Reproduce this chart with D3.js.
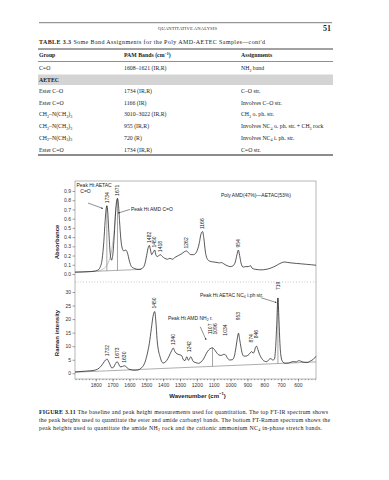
<!DOCTYPE html>
<html>
<head>
<meta charset="utf-8">
<script src="https://cdn.jsdelivr.net/npm/d3@7"></script>
<style>
body { margin: 0; background: #fff; }
svg { display: block; }
</style>
</head>
<body>
<svg id="page"></svg>
<script>
// ---- data ----
const irWavenumber = [1923, 1880, 1840, 1810, 1790, 1775, 1762, 1752, 1744, 1738, 1734, 1729, 1722, 1714, 1706, 1698, 1690, 1682, 1676, 1671,
    1666, 1659, 1651, 1643, 1633, 1622, 1612, 1600, 1588, 1570, 1545, 1525, 1510, 1498, 1488, 1482, 1475, 1468, 1458, 1450,
    1442, 1432, 1418, 1405, 1390, 1375, 1360, 1345, 1330, 1310, 1290, 1275, 1262, 1250, 1235, 1220, 1205, 1195, 1185, 1176,
    1166, 1158, 1150, 1140, 1125, 1100, 1080, 1065, 1055, 1040, 1020, 1000, 985, 972, 962, 954, 946, 938, 925, 910,
    895, 882, 870, 850, 820, 790, 760, 730, 700, 680, 660, 640, 610, 580, 550, 520, 493];
const irAbsorbance = [0.02, 0.022, 0.025, 0.03, 0.04, 0.07, 0.16, 0.35, 0.58, 0.71, 0.74, 0.68, 0.45, 0.22, 0.15, 0.22, 0.42, 0.68, 0.79, 0.82,
    0.77, 0.58, 0.38, 0.28, 0.25, 0.26, 0.23, 0.14, 0.08, 0.06, 0.05, 0.06, 0.10, 0.20, 0.29, 0.31, 0.26, 0.21, 0.24, 0.26,
    0.20, 0.19, 0.21, 0.19, 0.17, 0.16, 0.17, 0.16, 0.18, 0.20, 0.22, 0.24, 0.25, 0.23, 0.21, 0.21, 0.23, 0.27, 0.34, 0.43,
    0.46, 0.38, 0.25, 0.17, 0.14, 0.13, 0.125, 0.12, 0.125, 0.11, 0.09, 0.08, 0.09, 0.13, 0.21, 0.26, 0.20, 0.12, 0.075, 0.08,
    0.08, 0.09, 0.06, 0.05, 0.045, 0.05, 0.065, 0.09, 0.12, 0.13, 0.125, 0.12, 0.115, 0.11, 0.105, 0.10, 0.095];

// grey AMD carbonyl component drawn under the 1671 band
const amdWavenumber = [1790, 1760, 1735, 1715, 1700, 1690, 1680, 1671];
const amdAbsorbance = [0.03, 0.05, 0.09, 0.18, 0.32, 0.48, 0.70, 0.82];

const ramanWavenumber = [1923, 1860, 1810, 1790, 1770, 1755, 1742, 1732, 1724, 1714, 1705, 1695, 1685, 1673, 1664, 1654, 1642, 1630, 1620, 1605,
    1590, 1570, 1550, 1535, 1520, 1505, 1493, 1482, 1470, 1460, 1450, 1443, 1436, 1428, 1420, 1410, 1400, 1390, 1378, 1365,
    1350, 1340, 1330, 1318, 1305, 1290, 1280, 1270, 1260, 1250, 1236, 1222, 1205, 1190, 1175, 1160, 1145, 1130, 1115, 1107,
    1096, 1085, 1070, 1055, 1040, 1030, 1018, 1005, 990, 978, 968, 960, 953, 946, 938, 930, 920, 905, 890, 880,
    874, 866, 858, 852, 846, 838, 828, 815, 800, 785, 770, 760, 750, 740, 732, 726, 719, 713, 707, 700,
    690, 675, 655, 630, 610, 595, 585, 565, 545, 525, 510, 493];
const ramanIntensity = [0.5, 0.8, 1.1, 1.5, 2.5, 3.8, 4.9, 5.2, 4.4, 3.0, 2.0, 2.2, 3.3, 4.3, 3.4, 2.4, 2.5, 2.8, 2.4, 1.6,
    1.3, 1.1, 1.2, 1.7, 2.6, 4.6, 7.5, 11, 16.5, 21, 22.8, 19, 12.5, 8.5, 6.5, 4.5, 3.8, 4.0, 4.8, 6.3,
    8.3, 9.3, 8.0, 7.2, 6.9, 6.5, 5.0, 4.7, 6.1, 4.8, 6.1, 4.4, 3.9, 3.7, 4.2, 5.3, 7.2, 8.6, 9.3, 9.4,
    8.8, 7.8, 6.8, 6.6, 7.0, 6.8, 5.6, 4.9, 5.0, 6.2, 9.5, 12.8, 14.8, 12.5, 9.5, 7.2, 6.3, 6.4, 7.0, 7.8,
    8.0, 7.4, 8.2, 9.6, 10.0, 8.8, 7.0, 5.5, 4.5, 4.3, 5.2, 5.4, 4.9, 5.2, 10, 18, 27.8, 20, 11, 6,
    4.2, 3.7, 3.8, 4.3, 4.2, 4.7, 4.5, 4.1, 4.0, 4.6, 5.1, 6.3];

const irBaselineWave = [1923, 1530];
const irBaselineAbs = [0.02, 0.05];
const ramanBaselineWave = [1923, 493];
const ramanBaselineInt = [0.4, 4.2];

const irPeaks = [1734, 1671, 1482, 1450, 1418, 1262, 1166, 954];
const ramanPeaks = [1732, 1673, 1630, 1450, 1340, 1242, 1107, 1096, 1034, 953, 874, 846, 719];
const irPeakHeights = [1734, 1671];
const ramanPeakHeights = [1107, 719];

const wavenumberTicks = [1800, 1700, 1600, 1500, 1400, 1300, 1200, 1100, 1000, 900, 800, 700, 600];
const absorbanceTicks = [0, 0.1, 0.2, 0.3, 0.4, 0.5, 0.6, 0.7, 0.8, 0.9];
const ramanTicks = [0, 5, 10, 15, 20, 25, 30];

const tableColumns = ["Group", "PAM Bands (cm^{−1})", "Assignments"];
const tableRowsTop = [["C=O", "1608–1621 (IR,R)", "NH_2 band"]];
const tableSection = "AETEC";
const tableRows = [
    ["Ester C–O", "1734 (IR,R)", "C–O str."],
    ["Ester C=O", "1166 (IR)", "Involves C–O str."],
    ["CH_2–N(CH_3)_3", "3010–3022 (IR,R)", "CH_3 o. ph. str."],
    ["CH_2–N(CH_3)_3", "955 (IR,R)", "Involves NC_4 o. ph. str. + CH_3 rock"],
    ["CH_2–N(CH_3)_3", "720 (R)", "Involves NC_4 i. ph. str."],
    ["Ester C=O", "1734 (IR,R)", "C=O str."]
];
const captionLines = [
    "The baseline and peak height measurements used for quantitation. The top FT-IR spectrum shows",
    "the peak heights used to quantitate the ester and amide carbonyl bands. The bottom FT-Raman spectrum shows the",
    "peak heights used to quantitate the amide NH_2 rock and the cationic ammonium NC_4 in-phase stretch bands."
];

// ---- helpers ----
const serif = "'Liberation Serif', 'Times New Roman', serif";
const sans = "'Liberation Sans', Arial, sans-serif";

// "_2" -> subscript 2, "^{-1}" -> superscript; shifts done with dy so they reset cleanly
function richText(sel, str, fs) {
    let shift = 0;
    str.split(/(_\w|\^\{[^}]*\})/).forEach(p => {
        if (!p) return;
        let target = 0, txt = p, small = false;
        if (p[0] === "_") { target = fs * 0.28; txt = p.slice(1); small = true; }
        else if (p[0] === "^") { target = -fs * 0.38; txt = p.slice(2, -1); small = true; }
        const t = sel.append("tspan").attr("dy", target - shift).text(txt);
        if (small) t.attr("font-size", fs * 0.7);
        shift = target;
    });
    return sel;
}

function valueAt(ws, vs, w) {
    for (let i = 0; i < ws.length - 1; i++) {
        if (w <= ws[i] && w >= ws[i + 1]) {
            const t = (ws[i] - w) / (ws[i] - ws[i + 1]);
            return vs[i] + t * (vs[i + 1] - vs[i]);
        }
    }
    return vs[vs.length - 1];
}

const svg = d3.select("#page").attr("width", 389).attr("height", 480);
svg.append("rect").attr("width", 389).attr("height", 480).attr("fill", "#fff");

// ---- running head ----
svg.append("line").attr("x1", 39).attr("x2", 332).attr("y1", 22.7).attr("y2", 22.7)
    .attr("stroke", "#222").attr("stroke-width", 0.6);
svg.append("text").attr("x", 187.5).attr("y", 29.6).attr("text-anchor", "middle")
    .attr("font-family", serif).attr("font-size", 4.6).attr("textLength", 59)
    .attr("fill", "#333").text("QUANTITATIVE ANALYSIS");
svg.append("text").attr("x", 331).attr("y", 30.5).attr("text-anchor", "end")
    .attr("font-family", serif).attr("font-size", 8).attr("font-weight", "bold").attr("fill", "#222").text("51");

// ---- table ----
const colX = [39, 124, 241];
const tfs = 5.8;
const title = svg.append("text").attr("x", 39).attr("y", 44.2)
    .attr("font-family", serif).attr("font-size", 6).attr("fill", "#222").attr("textLength", 226);
title.append("tspan").attr("font-weight", "bold").text("TABLE 3.3");
title.append("tspan").text("   Some Band Assignments for the Poly AMD-AETEC Samples—cont'd");

svg.append("line").attr("x1", 38).attr("x2", 333).attr("y1", 49).attr("y2", 49)
    .attr("stroke", "#444").attr("stroke-width", 1);
tableColumns.forEach((c, i) => {
    richText(svg.append("text").attr("x", colX[i]).attr("y", 57.2)
        .attr("font-family", serif).attr("font-size", tfs).attr("font-weight", "bold").attr("fill", "#222"), c, tfs);
});
svg.append("line").attr("x1", 38).attr("x2", 333).attr("y1", 61.5).attr("y2", 61.5)
    .attr("stroke", "#444").attr("stroke-width", 0.6);

function drawRow(row, y) {
    row.forEach((c, i) => {
        richText(svg.append("text").attr("x", colX[i]).attr("y", y)
            .attr("font-family", serif).attr("font-size", tfs).attr("fill", "#222"), c, tfs);
    });
}
tableRowsTop.forEach((r, i) => drawRow(r, 70 + i * 11.6));

svg.append("rect").attr("x", 38).attr("y", 74.5).attr("width", 295).attr("height", 10.5).attr("fill", "#d4d4d4");
svg.append("text").attr("x", 39).attr("y", 81.7).attr("font-family", serif).attr("font-size", tfs)
    .attr("font-weight", "bold").attr("fill", "#222").text(tableSection);

tableRows.forEach((r, i) => drawRow(r, 93 + i * 11.7));
svg.append("line").attr("x1", 38).attr("x2", 333).attr("y1", 155).attr("y2", 155)
    .attr("stroke", "#666").attr("stroke-width", 1.4);

// ---- chart ----
const plotLeft = 75, plotRight = 316, plotTop = 181, plotBottom = 379, plotSplit = 282;

const x = d3.scaleLinear().domain([1923, 493]).range([plotLeft, plotRight]);
const yIR = d3.scaleLinear().domain([0, 0.9]).range([274, 191]);
const yRaman = d3.scaleLinear().domain([0, 30]).range([373.3, 292]);

const chart = svg.append("g").attr("font-family", sans);

const defs = svg.append("defs");
defs.append("marker").attr("id", "arrow").attr("viewBox", "0 0 10 10").attr("refX", 9).attr("refY", 5)
    .attr("markerWidth", 4).attr("markerHeight", 4).attr("orient", "auto")
    .append("path").attr("d", "M0,1 L10,5 L0,9 Z").attr("fill", "#222");

// frame
chart.append("rect").attr("x", plotLeft).attr("y", plotTop).attr("width", plotRight - plotLeft).attr("height", plotBottom - plotTop)
    .attr("fill", "none").attr("stroke", "#888").attr("stroke-width", 0.6);
chart.append("line").attr("x1", plotLeft).attr("x2", plotRight).attr("y1", plotSplit).attr("y2", plotSplit)
    .attr("stroke", "#666").attr("stroke-width", 0.6).attr("stroke-dasharray", "0.6,2.2");

// axes
const axisIR = chart.append("g").attr("transform", `translate(${plotLeft},0)`)
    .call(d3.axisLeft(yIR).tickValues(absorbanceTicks).tickFormat(d3.format(".1f")).tickSize(2.5).tickPadding(1.5));
const axisRaman = chart.append("g").attr("transform", `translate(${plotLeft},0)`)
    .call(d3.axisLeft(yRaman).tickValues(ramanTicks).tickSize(2.5).tickPadding(1.5));
const axisX = chart.append("g").attr("transform", `translate(0,${plotBottom})`)
    .call(d3.axisBottom(x).tickValues(wavenumberTicks).tickFormat(d3.format("d")).tickSize(2.5).tickPadding(2));
const axisMinor = chart.append("g").attr("transform", `translate(0,${plotBottom})`)
    .call(d3.axisBottom(x).tickValues(d3.range(1920, 493, -20)).tickSize(1.2).tickFormat(""));
[axisIR, axisRaman, axisX, axisMinor].forEach(a => {
    a.select(".domain").remove();
    a.selectAll("line").attr("stroke", "#444").attr("stroke-width", 0.5);
    a.selectAll("text").attr("font-family", sans).attr("font-size", 5).attr("fill", "#333");
});

chart.append("text").attr("transform", `translate(59,242) rotate(-90)`).attr("text-anchor", "middle")
    .attr("font-size", 6).attr("font-weight", "bold").attr("fill", "#222").text("Absorbance");
chart.append("text").attr("transform", `translate(59,333) rotate(-90)`).attr("text-anchor", "middle")
    .attr("font-size", 6).attr("font-weight", "bold").attr("fill", "#222").text("Raman intensity");
richText(chart.append("text").attr("x", 197.5).attr("y", 397.5).attr("text-anchor", "middle")
    .attr("font-size", 6).attr("font-weight", "bold").attr("fill", "#222"), "Wavenumber (cm^{−1})", 6);

// baselines
const lineIR = d3.line().x(d => x(d[0])).y(d => yIR(d[1]));
const lineRaman = d3.line().x(d => x(d[0])).y(d => yRaman(d[1]));

chart.append("path").datum(d3.zip(irBaselineWave, irBaselineAbs)).attr("d", lineIR)
    .attr("fill", "none").attr("stroke", "#777").attr("stroke-width", 0.6);
chart.append("path").datum(d3.zip(ramanBaselineWave, ramanBaselineInt)).attr("d", lineRaman)
    .attr("fill", "none").attr("stroke", "#777").attr("stroke-width", 0.6);

// peak height lines
chart.selectAll(".ph-ir").data(irPeakHeights).join("line")
    .attr("x1", d => x(d)).attr("x2", d => x(d))
    .attr("y1", d => yIR(valueAt(irBaselineWave, irBaselineAbs, d)))
    .attr("y2", d => yIR(valueAt(irWavenumber, irAbsorbance, d)))
    .attr("stroke", "#666").attr("stroke-width", 0.6);
chart.selectAll(".ph-raman").data(ramanPeakHeights).join("line")
    .attr("x1", d => x(d)).attr("x2", d => x(d))
    .attr("y1", d => yRaman(valueAt(ramanBaselineWave, ramanBaselineInt, d)))
    .attr("y2", d => yRaman(valueAt(ramanWavenumber, ramanIntensity, d)))
    .attr("stroke", "#666").attr("stroke-width", 0.6);

// spectra
chart.append("path").datum(d3.zip(amdWavenumber, amdAbsorbance))
    .attr("d", lineIR.curve(d3.curveMonotoneX))
    .attr("fill", "none").attr("stroke", "#999").attr("stroke-width", 0.6);
chart.append("path").datum(d3.zip(irWavenumber, irAbsorbance))
    .attr("d", lineIR.curve(d3.curveMonotoneX))
    .attr("fill", "none").attr("stroke", "#111").attr("stroke-width", 0.7);
chart.append("path").datum(d3.zip(ramanWavenumber, ramanIntensity))
    .attr("d", lineRaman.curve(d3.curveMonotoneX))
    .attr("fill", "none").attr("stroke", "#111").attr("stroke-width", 0.7);

// peak labels (extra lift / sideways nudge where the page crowds them)
const ramanLift = { 1107: 10.5, 1096: 12, 1034: 16, 953: 10, 874: 6, 846: 5, 719: 5, 1242: 3 };
const ramanNudge = { 1107: -2, 1096: 0.5 };
chart.selectAll(".pk-ir").data(irPeaks).join("text")
    .attr("transform", d => `translate(${x(d) + 1.7},${yIR(valueAt(irWavenumber, irAbsorbance, d)) - 2.5}) rotate(-90)`)
    .attr("font-size", 5).attr("fill", "#222").text(d => d);
chart.selectAll(".pk-raman").data(ramanPeaks).join("text")
    .attr("transform", d => `translate(${x(d) + 1.7 + (ramanNudge[d] || 0)},${yRaman(valueAt(ramanWavenumber, ramanIntensity, d)) - 3 - (ramanLift[d] || 0)}) rotate(-90)`)
    .attr("font-size", 5).attr("fill", "#222").text(d => d);

// annotations
const note = (g, px, py, str, anchor) => richText(g.append("text").attr("x", px).attr("y", py)
    .attr("text-anchor", anchor || "start").attr("font-size", 5).attr("fill", "#222"), str, 5);
note(chart, 76.5, 186.5, "Peak Ht AETAC");
note(chart, 85.5, 192.5, "C=O", "middle");
note(chart, 131, 210.5, "Peak Ht AMD C=O");
note(chart, 256, 197, "Poly AMD(47%)—AETAC(53%)", "middle");
note(chart, 200, 297, "Peak Ht AETAC NC_4 i.ph str.");
note(chart, 168, 319.5, "Peak Ht AMD NH_2 r.");

const arrow = (w1, v1, w2, v2, y) => chart.append("line")
    .attr("x1", x(w1)).attr("y1", y(v1)).attr("x2", x(w2)).attr("y2", y(v2))
    .attr("stroke", "#222").attr("stroke-width", 0.5).attr("marker-end", "url(#arrow)");
arrow(1846, 0.77, 1757, 0.71, yIR);
arrow(1597, 0.70, 1668, 0.66, yIR);
arrow(820, 27.9, 728, 26.1, yRaman);
arrow(1180, 17.2, 1145, 12.3, yRaman);

// ---- caption ----
const capY = [414, 421.8, 429.6];
const capLen = [289, 291, 283];
captionLines.forEach((line, i) => {
    const t = svg.append("text").attr("x", 39).attr("y", capY[i])
        .attr("font-family", serif).attr("font-size", 5.9).attr("fill", "#222")
        .attr("textLength", capLen[i]).attr("lengthAdjust", "spacing");
    if (i === 0) t.append("tspan").attr("font-weight", "bold").text("FIGURE 3.11   ");
    richText(t, line, 5.9);
});
</script>
</body>
</html>
